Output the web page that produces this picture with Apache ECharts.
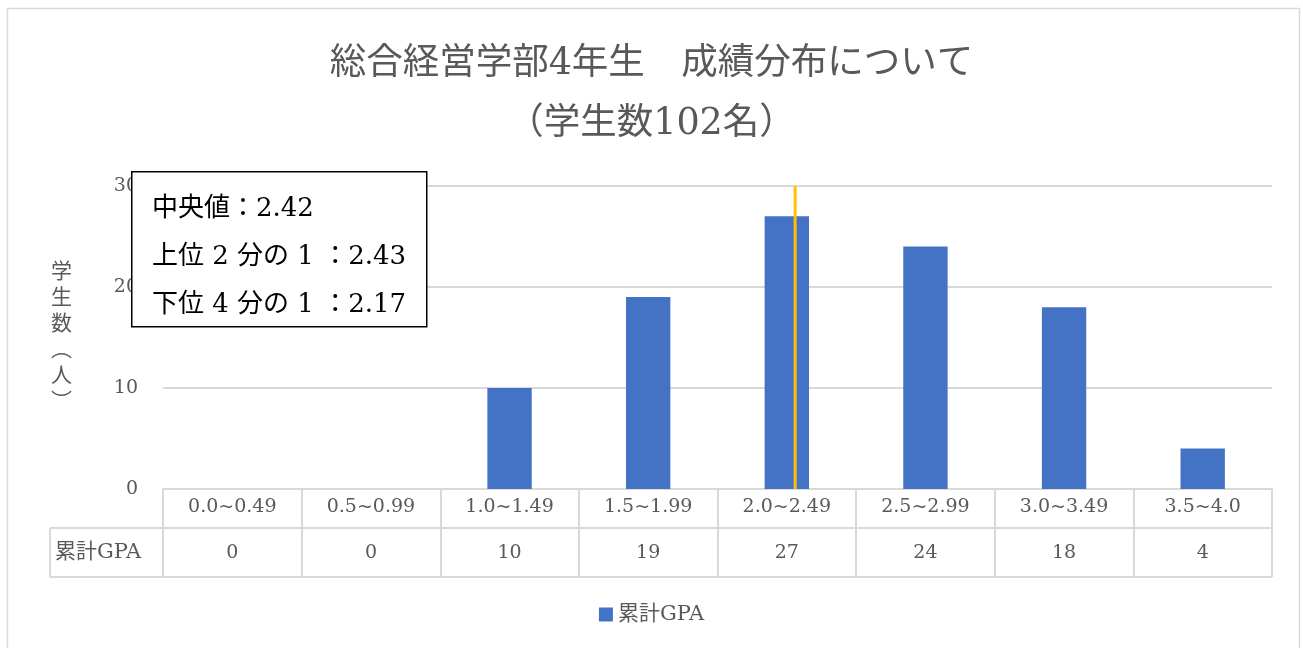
<!DOCTYPE html>
<html>
<head>
<meta charset="utf-8">
<script src="https://cdn.jsdelivr.net/npm/echarts@6/dist/echarts.min.js"></script>
<style>
html,body{margin:0;padding:0;background:#fff;}
#c{width:1303px;height:648px;}
</style>
</head>
<body>
<div id="c"></div>
<script>
const titleLines = ['総合経営学部4年生　成績分布について', '（学生数102名）'];
const categories = ['0.0~0.49', '0.5~0.99', '1.0~1.49', '1.5~1.99', '2.0~2.49', '2.5~2.99', '3.0~3.49', '3.5~4.0'];
const seriesName = '累計GPA';
const counts = [0, 0, 10, 19, 27, 24, 18, 4];
const yTicks = [0, 10, 20, 30];
const medianX = 4.56; // position of median marker on the category scale (0..8)
const statLines = ['中央値：2.42', '上位 2 分の 1 ：2.43', '下位 4 分の 1 ：2.17'];
const yName = ['学', '生', '数', '︵', '人', '︶'];

const FONT = '"DejaVu Serif", "Noto Sans CJK JP", serif';
const GRAY = '#595959';
const LINE = '#d9d9d9';

const chart = echarts.init(document.getElementById('c'));
chart.setOption({
  backgroundColor: '#fff',
  textStyle: { fontFamily: FONT },
  title: {
    text: titleLines.join('\n'),
    left: 'center',
    top: 30,
    textStyle: { fontFamily: FONT, fontSize: 36.5, fontWeight: 'normal', color: GRAY, lineHeight: 60 }
  },
  legend: {
    data: [seriesName],
    bottom: 18,
    left: 'center',
    icon: 'rect',
    itemWidth: 14,
    itemHeight: 14,
    itemGap: 8,
    textStyle: { fontFamily: FONT, fontSize: 21, color: GRAY }
  },
  grid: { left: 163, right: 31, top: 186, bottom: 159, containLabel: false },
  xAxis: [{
    type: 'category',
    data: categories,
    boundaryGap: true,
    axisLine: { show: true, lineStyle: { color: LINE, width: 2 } },
    axisTick: { show: true, length: 88, lineStyle: { color: LINE, width: 2 } },
    axisLabel: {
      margin: 2,
      interval: 0,
      formatter: function (v, i) { return '{a|' + v + '}\n{b|' + counts[i] + '}'; },
      rich: {
        a: { fontFamily: FONT, fontSize: 19, color: GRAY, lineHeight: 32 },
        b: { fontFamily: FONT, fontSize: 19, color: GRAY, lineHeight: 60 }
      }
    }
  }, {
    type: 'value', min: 0, max: categories.length, show: false
  }],
  yAxis: {
    type: 'value',
    min: yTicks[0],
    max: yTicks[yTicks.length - 1],
    interval: yTicks[1] - yTicks[0],
    name: yName.join('\n'),
    nameLocation: 'middle',
    nameRotate: 0,
    nameGap: 91,
    nameTextStyle: { fontFamily: FONT, fontSize: 21, color: GRAY, lineHeight: 26, padding: [0, 0, 12, 0] },
    axisLine: { show: false },
    axisTick: { show: false },
    axisLabel: { margin: 25, fontFamily: FONT, fontSize: 19, color: GRAY },
    splitLine: { lineStyle: { color: LINE, width: 2 } }
  },
  series: [{
    name: seriesName,
    type: 'bar',
    data: counts,
    barWidth: '32%',
    itemStyle: { color: '#4472C4' },
    z: 2
  }, {
    name: '中央値',
    type: 'line',
    xAxisIndex: 1,
    data: [[medianX, yTicks[0]], [medianX, yTicks[yTicks.length - 1]]],
    symbol: 'none',
    lineStyle: { color: '#FFC000', width: 3 },
    silent: true,
    z: 3
  }],
  graphic: [
    { type: 'rect', left: 5, top: 6, shape: { width: 1292, height: 660 }, style: { fill: 'none', stroke: LINE, lineWidth: 1.5 }, z: 0, silent: true },
    // data table frame (left header cell and row separators)
    { type: 'line', shape: { x1: 50, y1: 528, x2: 1272, y2: 528 }, style: { stroke: LINE, lineWidth: 2 }, z: 5 },
    { type: 'line', shape: { x1: 50, y1: 577, x2: 1272, y2: 577 }, style: { stroke: LINE, lineWidth: 2 }, z: 5 },
    { type: 'line', shape: { x1: 50, y1: 528, x2: 50, y2: 577 }, style: { stroke: LINE, lineWidth: 2 }, z: 5 },
    { type: 'text', left: 55, top: 542, style: { text: seriesName, font: '21px ' + FONT, fill: GRAY }, z: 5 },
    // statistics text box
    { type: 'rect', left: 131, top: 171, shape: { width: 295, height: 155 }, style: { fill: '#fff', stroke: '#000', lineWidth: 1.5 }, z: 10 },
    { type: 'text', left: 152, top: 185, style: { text: statLines.join('\n'), font: '26px ' + FONT, fill: '#000', lineHeight: 48 }, z: 11 }
  ]
});
</script>
</body>
</html>
